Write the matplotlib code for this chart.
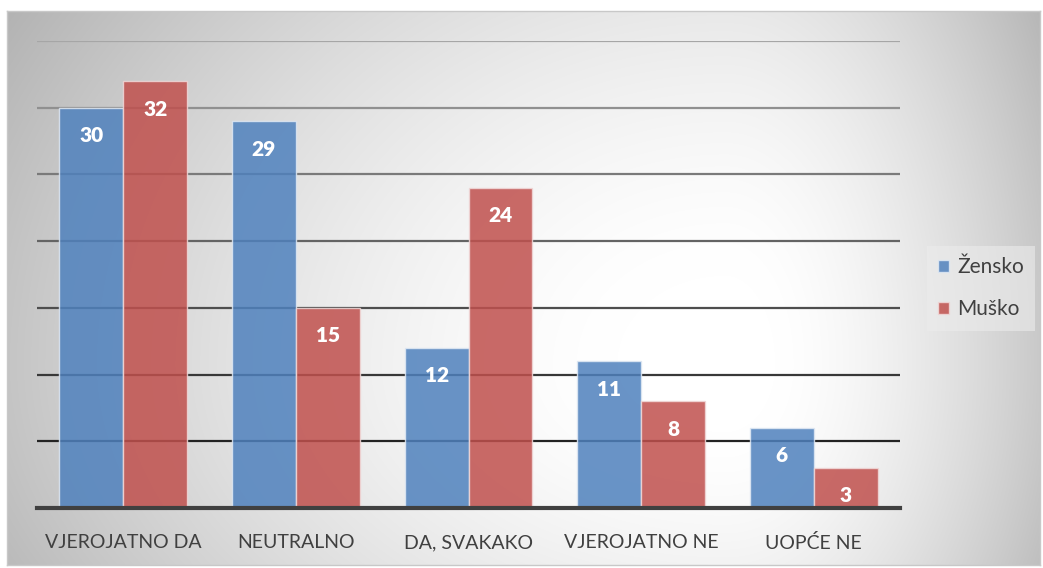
import numpy as np
import matplotlib
matplotlib.use("Agg")
import matplotlib.pyplot as plt

categories = ["VJEROJATNO DA", "NEUTRALNO", "DA, SVAKAKO", "VJEROJATNO NE", "UOPĆE NE"]
zensko = [30, 29, 12, 11, 6]
musko = [32, 15, 24, 8, 3]
series_names = ["Žensko", "Muško"]

plt.rcParams['font.family'] = ['Lato', 'DejaVu Sans']

W, H = 1043, 568
fig = plt.figure(figsize=(W/100, H/100), dpi=100)
fig.patch.set_facecolor('white')

# background radial gradient frame
bx0, by0, bx1, by1 = 7, 11, 1040, 565
bg = fig.add_axes([bx0/W, 1-by1/H, (bx1-bx0)/W, (by1-by0)/H])
px = np.arange(bx0, bx1)
py = np.arange(by0, by1)
XX, YY = np.meshgrid(px, py)
cxp, cyp = 725, 364
dx = XX - cxp
dy = YY - cyp
sx = np.where(dx < 0, 720.0, 330.0)
sy = np.where(dy < 0, 590.0, 450.0)
r = np.sqrt((dx/sx)**2 + (dy/sy)**2)
rr = np.clip((r - 0.15)/0.85, 0, None)
val = np.clip(1 - 0.23*rr**1.5, 0, 1)
img = np.dstack([val, val, val])
bg.imshow(img, aspect='auto', extent=[0, 1, 0, 1], origin='upper', interpolation='bilinear')
bg.set_xlim(0, 1); bg.set_ylim(0, 1)
bg.set_xticks([]); bg.set_yticks([])
for s in bg.spines.values():
    s.set_color('#c8c8c8'); s.set_linewidth(1)

ax = fig.add_axes([37/W, 1-508/H, (900-37)/W, (508-41)/H])
ax.patch.set_alpha(0)
x = np.arange(len(categories))
bw = 0.37
b1 = ax.bar(x - bw/2, zensko, bw, color='#4F81BD', alpha=0.85, edgecolor='#dfe8f3', linewidth=1, zorder=2, label=series_names[0])
b2 = ax.bar(x + bw/2, musko, bw, color='#C0504D', alpha=0.85, edgecolor='#f0d8d8', linewidth=1, zorder=2, label=series_names[1])
ax.set_xlim(-0.5, len(categories)-0.5)
ax.set_ylim(0, 35)
ax.set_yticks(np.arange(0, 36, 5))
ax.set_yticklabels([])
ax.tick_params(axis='y', length=0)
ax.tick_params(axis='x', length=0, pad=19, labelsize=14, labelcolor='#404040')
ax.set_xticks(x)
ax.set_xticklabels(categories)
ax.yaxis.grid(True, zorder=1)
ax.set_axisbelow(True)
gl = ax.get_ygridlines()
n = len(gl)
for i, g in enumerate(gl):
    t = i/(n-1)
    c = 0.05 + 0.6*t
    g.set_color((c, c, c)); g.set_linewidth(1.6)
for s in ['top', 'right', 'left']:
    ax.spines[s].set_visible(False)
ax.spines['bottom'].set_color('#404040')
ax.spines['bottom'].set_linewidth(3)
ax.spines['bottom'].set_zorder(3)

for bars, vals in ((b1, zensko), (b2, musko)):
    for rct, v in zip(bars, vals):
        ax.annotate(str(v), (rct.get_x()+rct.get_width()/2, v), xytext=(0, -28),
                    textcoords='offset pixels',
                    ha='center', va='center', color='white', fontsize=15, fontweight='heavy', zorder=4)

leg = ax.legend(loc='upper left', bbox_to_anchor=(927/W, 1-246/H), bbox_transform=fig.transFigure,
                frameon=True, fancybox=False, fontsize=15, handlelength=0.5, handleheight=0.5,
                handletextpad=0.4, labelspacing=1.05, borderpad=0.55, borderaxespad=0)
leg.get_frame().set_facecolor('#ececec')
leg.get_frame().set_alpha(0.6)
leg.get_frame().set_edgecolor('none')
for t in leg.get_texts():
    t.set_color('#404040')

fig.savefig('out.png', dpi=100)
